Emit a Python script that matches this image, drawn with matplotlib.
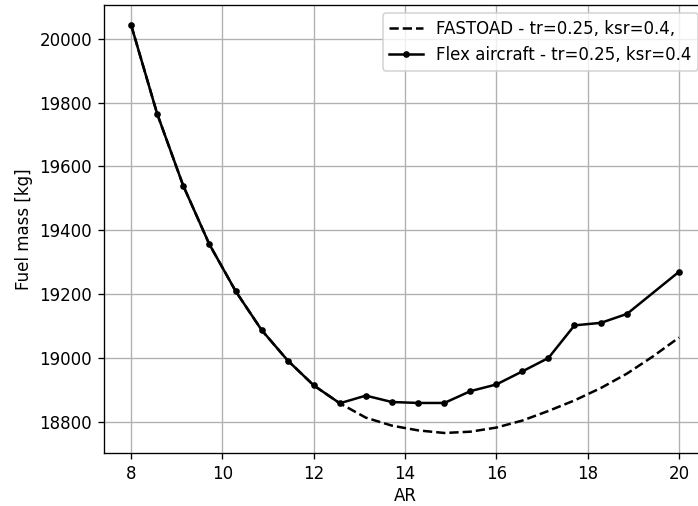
import matplotlib
matplotlib.use("Agg")
import matplotlib.pyplot as plt

# aspect ratio sweep
AR = [8.0, 8.57, 9.14, 9.71, 10.29, 10.86, 11.43, 12.0, 12.57, 13.14, 13.71,
      14.29, 14.86, 15.43, 16.0, 16.57, 17.14, 17.71, 18.29, 18.86, 19.43, 20.0]

# FASTOAD reference fuel mass [kg]
fuel_fastoad = [20043, 19765, 19540, 19357, 19209, 19087, 18992, 18914, 18858,
                18813, 18788, 18773, 18765, 18769, 18782, 18804, 18834, 18867,
                18906, 18951, 19005, 19064]

# flex aircraft (no converged point at AR=19.43)
AR_flex = [8.0, 8.57, 9.14, 9.71, 10.29, 10.86, 11.43, 12.0, 12.57, 13.14, 13.71,
           14.29, 14.86, 15.43, 16.0, 16.57, 17.14, 17.71, 18.29, 18.86, 20.0]
fuel_flex = [20043, 19765, 19540, 19357, 19209, 19087, 18992, 18914, 18858,
             18882, 18862, 18859, 18859, 18896, 18917, 18958, 19000, 19102,
             19110, 19138, 19270]

fig = plt.figure(figsize=(698 / 120, 506 / 120), dpi=120)
ax = fig.add_axes([0.1486, 0.104, 0.8635, 0.887])

ax.plot(AR, fuel_fastoad, 'k--', label='FASTOAD - tr=0.25, ksr=0.4,')
ax.plot(AR_flex, fuel_flex, 'k.-', label='Flex aircraft - tr=0.25, ksr=0.4')

ax.set_xlabel('AR', labelpad=2.5)
ax.set_ylabel('Fuel mass [kg]')
ax.set_xticks([8, 10, 12, 14, 16, 18, 20])
ax.grid(True)
ax.legend(loc='upper right')

fig.savefig('out.png', dpi=120)
